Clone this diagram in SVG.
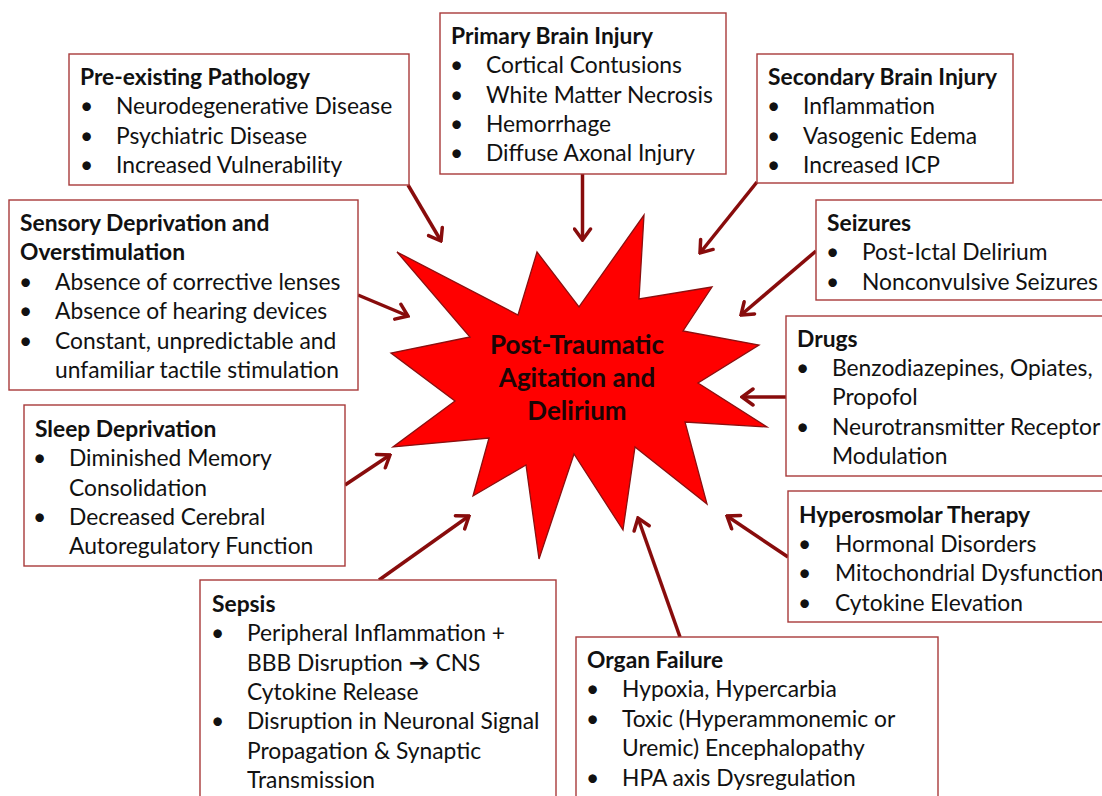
<svg xmlns="http://www.w3.org/2000/svg" width="1102" height="796" viewBox="0 0 1102 796">
<defs>
<style>
.box{fill:#fff;stroke:#a83a3a;stroke-width:1.4}
.t{font-family:Lato,"Liberation Sans",sans-serif;font-size:22.8px;fill:#111}
.h{font-family:Lato,"Liberation Sans",sans-serif;font-size:22.8px;font-weight:bold;fill:#111}
.c{font-family:Lato,"Liberation Sans",sans-serif;font-size:26px;font-weight:bold;fill:#1a0505;text-anchor:middle}
.ar{stroke:#880c0c;stroke-width:3.5;fill:none;marker-end:url(#ah)}
</style>
<marker id="ah" markerUnits="userSpaceOnUse" viewBox="-14 -10 16 20" markerWidth="16" markerHeight="20" refX="0" refY="0" orient="auto">
<path d="M-11,-8 L0,0 L-11,8" fill="none" stroke="#880c0c" stroke-width="3.5" stroke-linecap="round" stroke-linejoin="miter"/>
</marker>
</defs>
<rect width="1102" height="796" fill="#fff"/>

<g id="connectors">
<line class="ar" x1="408" y1="185" x2="441" y2="241"/>
<line class="ar" x1="358" y1="295" x2="408" y2="316"/>
<line class="ar" x1="582.5" y1="174" x2="582.5" y2="240"/>
<line class="ar" x1="757" y1="182" x2="700" y2="253"/>
<line class="ar" x1="816" y1="251" x2="741" y2="315"/>
<line class="ar" x1="786" y1="397" x2="742" y2="397"/>
<line class="ar" x1="788" y1="557" x2="727" y2="516"/>
<line class="ar" x1="680" y1="637" x2="638" y2="518"/>
<line class="ar" x1="379" y1="580" x2="469" y2="516"/>
<line class="ar" x1="345" y1="485" x2="390" y2="455"/>
</g>

<g id="center">
<polygon points="397,252 518,315 537,252 579,307 644,215 639,299 712,287 683,331 759,345 698,383 767,427 685,422 707,504 635,447 623,530 574,454 539,559 526,465 473,496 489,438 393,447 455,401 391,353 470,337" fill="#ff0000" stroke="#8b0f0f" stroke-width="1.3" stroke-linejoin="miter"/>
<text class="c" x="577" y="354">Post-Traumatic</text>
<text class="c" x="577" y="387">Agitation and</text>
<text class="c" x="577" y="420">Delirium</text>
</g>

<g id="primary">
<rect class="box" x="440" y="13" width="286" height="161"/>
<text class="h" x="451" y="44">Primary Brain Injury</text>
<text class="t" x="450" y="73">•</text><text class="t" x="486" y="73">Cortical Contusions</text>
<text class="t" x="450" y="103">•</text><text class="t" x="486" y="103">White Matter Necrosis</text>
<text class="t" x="450" y="132">•</text><text class="t" x="486" y="132">Hemorrhage</text>
<text class="t" x="450" y="161">•</text><text class="t" x="486" y="161">Diffuse Axonal Injury</text>
</g>

<g id="preexisting">
<rect class="box" x="69" y="54" width="340" height="131"/>
<text class="h" x="80" y="85">Pre-existing Pathology</text>
<text class="t" x="80" y="114">•</text><text class="t" x="116" y="114">Neurodegenerative Disease</text>
<text class="t" x="80" y="144">•</text><text class="t" x="116" y="144">Psychiatric Disease</text>
<text class="t" x="80" y="173">•</text><text class="t" x="116" y="173">Increased Vulnerability</text>
</g>

<g id="secondary">
<rect class="box" x="757" y="54" width="256" height="129"/>
<text class="h" x="768" y="85">Secondary Brain Injury</text>
<text class="t" x="767" y="114">•</text><text class="t" x="803" y="114">Inflammation</text>
<text class="t" x="767" y="144">•</text><text class="t" x="803" y="144">Vasogenic Edema</text>
<text class="t" x="767" y="173">•</text><text class="t" x="803" y="173">Increased ICP</text>
</g>

<g id="sensory">
<rect class="box" x="9" y="200" width="349" height="190"/>
<text class="h" x="20" y="231">Sensory Deprivation and</text>
<text class="h" x="20" y="260">Overstimulation</text>
<text class="t" x="19" y="290">•</text><text class="t" x="55" y="290">Absence of corrective lenses</text>
<text class="t" x="19" y="319">•</text><text class="t" x="55" y="319">Absence of hearing devices</text>
<text class="t" x="19" y="349">•</text><text class="t" x="55" y="349">Constant, unpredictable and</text>
<text class="t" x="55" y="378">unfamiliar tactile stimulation</text>
</g>

<g id="seizures">
<rect class="box" x="816" y="200" width="300" height="100"/>
<text class="h" x="827" y="231">Seizures</text>
<text class="t" x="826" y="260">•</text><text class="t" x="862" y="260">Post-Ictal Delirium</text>
<text class="t" x="826" y="290">•</text><text class="t" x="862" y="290">Nonconvulsive Seizures</text>
</g>

<g id="drugs">
<rect class="box" x="786" y="316" width="330" height="160"/>
<text class="h" x="797" y="347">Drugs</text>
<text class="t" x="796" y="376">•</text><text class="t" x="832" y="376">Benzodiazepines, Opiates,</text>
<text class="t" x="832" y="405">Propofol</text>
<text class="t" x="796" y="435">•</text><text class="t" x="832" y="435">Neurotransmitter Receptor</text>
<text class="t" x="832" y="464">Modulation</text>
</g>

<g id="sleep">
<rect class="box" x="24" y="405" width="321" height="161"/>
<text class="h" x="35" y="437">Sleep Deprivation</text>
<text class="t" x="33" y="466">•</text><text class="t" x="69" y="466">Diminished Memory</text>
<text class="t" x="69" y="496">Consolidation</text>
<text class="t" x="33" y="525">•</text><text class="t" x="69" y="525">Decreased Cerebral</text>
<text class="t" x="69" y="554">Autoregulatory Function</text>
</g>

<g id="hyperosmolar">
<rect class="box" x="788" y="491" width="330" height="131"/>
<text class="h" x="799" y="523">Hyperosmolar Therapy</text>
<text class="t" x="798" y="552">•</text><text class="t" x="835" y="552">Hormonal Disorders</text>
<text class="t" x="798" y="581">•</text><text class="t" x="835" y="581">Mitochondrial Dysfunction</text>
<text class="t" x="798" y="611">•</text><text class="t" x="835" y="611">Cytokine Elevation</text>
</g>

<g id="sepsis">
<rect class="box" x="200" y="580" width="356" height="230"/>
<text class="h" x="212" y="612">Sepsis</text>
<text class="t" x="211" y="641">•</text><text class="t" x="247" y="641">Peripheral Inflammation +</text>
<text class="t" x="247" y="671">BBB Disruption <tspan font-family="'DejaVu Sans',sans-serif" font-weight="bold" font-size="25">➔</tspan> CNS</text>
<text class="t" x="247" y="700">Cytokine Release</text>
<text class="t" x="211" y="729">•</text><text class="t" x="247" y="729">Disruption in Neuronal Signal</text>
<text class="t" x="247" y="759">Propagation &amp; Synaptic</text>
<text class="t" x="247" y="788">Transmission</text>
</g>

<g id="organ">
<rect class="box" x="576" y="637" width="362" height="180"/>
<text class="h" x="587" y="668">Organ Failure</text>
<text class="t" x="586" y="697">•</text><text class="t" x="622" y="697">Hypoxia, Hypercarbia</text>
<text class="t" x="586" y="727">•</text><text class="t" x="622" y="727">Toxic (Hyperammonemic or</text>
<text class="t" x="622" y="756">Uremic) Encephalopathy</text>
<text class="t" x="586" y="786">•</text><text class="t" x="622" y="786">HPA axis Dysregulation</text>
</g>
</svg>
